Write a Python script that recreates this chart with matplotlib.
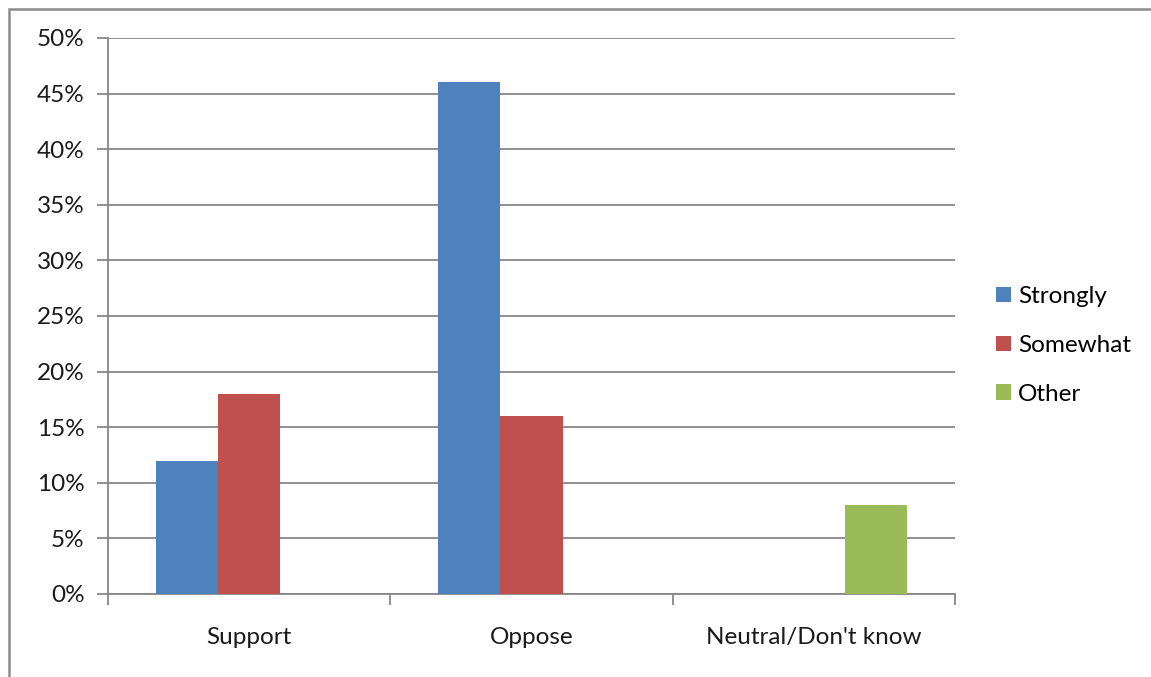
import numpy as np
import matplotlib
matplotlib.use("Agg")
import matplotlib.pyplot as plt
from matplotlib.patches import Rectangle

categories = ["Support", "Oppose", "Neutral/Don't know"]
series_names = ["Strongly", "Somewhat", "Other"]
strongly = [12, 46, 0]
somewhat = [18, 16, 0]
other = [0, 0, 8]
y_ticks = [0, 5, 10, 15, 20, 25, 30, 35, 40, 45, 50]

colors = ["#4F81BD", "#C0504D", "#9BBB59"]
grid_color = "#878787"
text_color = "#1a1a1a"
fs = 17.5

plt.rcParams["font.family"] = ["Lato", "DejaVu Sans"]

fig = plt.figure(figsize=(11.51, 6.77), dpi=100)
ax = fig.add_axes([108 / 1151, 1 - 594 / 677, (955 - 108) / 1151, (594 - 38) / 677])

# outer frame (only the top and left edges are visible in the original)
fig.patches.append(Rectangle((9 / 1151, -0.1), 1.2, 1 - 9 / 677 + 0.1,
                             transform=fig.transFigure, fill=False,
                             edgecolor="#8c8c8c", linewidth=1.8))

x = np.arange(len(categories)) + 0.5
width = 0.22
for i, (vals, name) in enumerate(zip([strongly, somewhat, other], series_names)):
    ax.bar(x + (i - 1) * width, vals, width, color=colors[i], label=name, zorder=3)

ax.set_xlim(0, 3)
ax.set_ylim(0, 50)
ax.set_yticks(y_ticks)
ax.set_yticklabels([f"{t}%" for t in y_ticks])
ax.yaxis.grid(True, color=grid_color, linewidth=1.3, zorder=0)

ax.set_xticks(x)
ax.set_xticklabels(categories)
ax.set_xticks([0, 1, 2, 3], minor=True)
ax.tick_params(axis="x", which="major", length=0, pad=24, labelsize=fs, colors=text_color)
ax.tick_params(axis="x", which="minor", length=8, width=1.3, color=grid_color)
ax.tick_params(axis="y", length=8, width=1.3, labelsize=fs, pad=9, colors=text_color)
ax.tick_params(axis="y", color=grid_color)

for side in ["top", "right"]:
    ax.spines[side].set_visible(False)
for side in ["left", "bottom"]:
    ax.spines[side].set_color(grid_color)
    ax.spines[side].set_linewidth(1.3)

ax.legend(loc="center left", bbox_to_anchor=(1.0225, 0.447), frameon=False,
          fontsize=fs, handlelength=0.62, handleheight=0.62, handletextpad=0.3,
          labelspacing=1.15)

fig.savefig("out.png", dpi=100)
